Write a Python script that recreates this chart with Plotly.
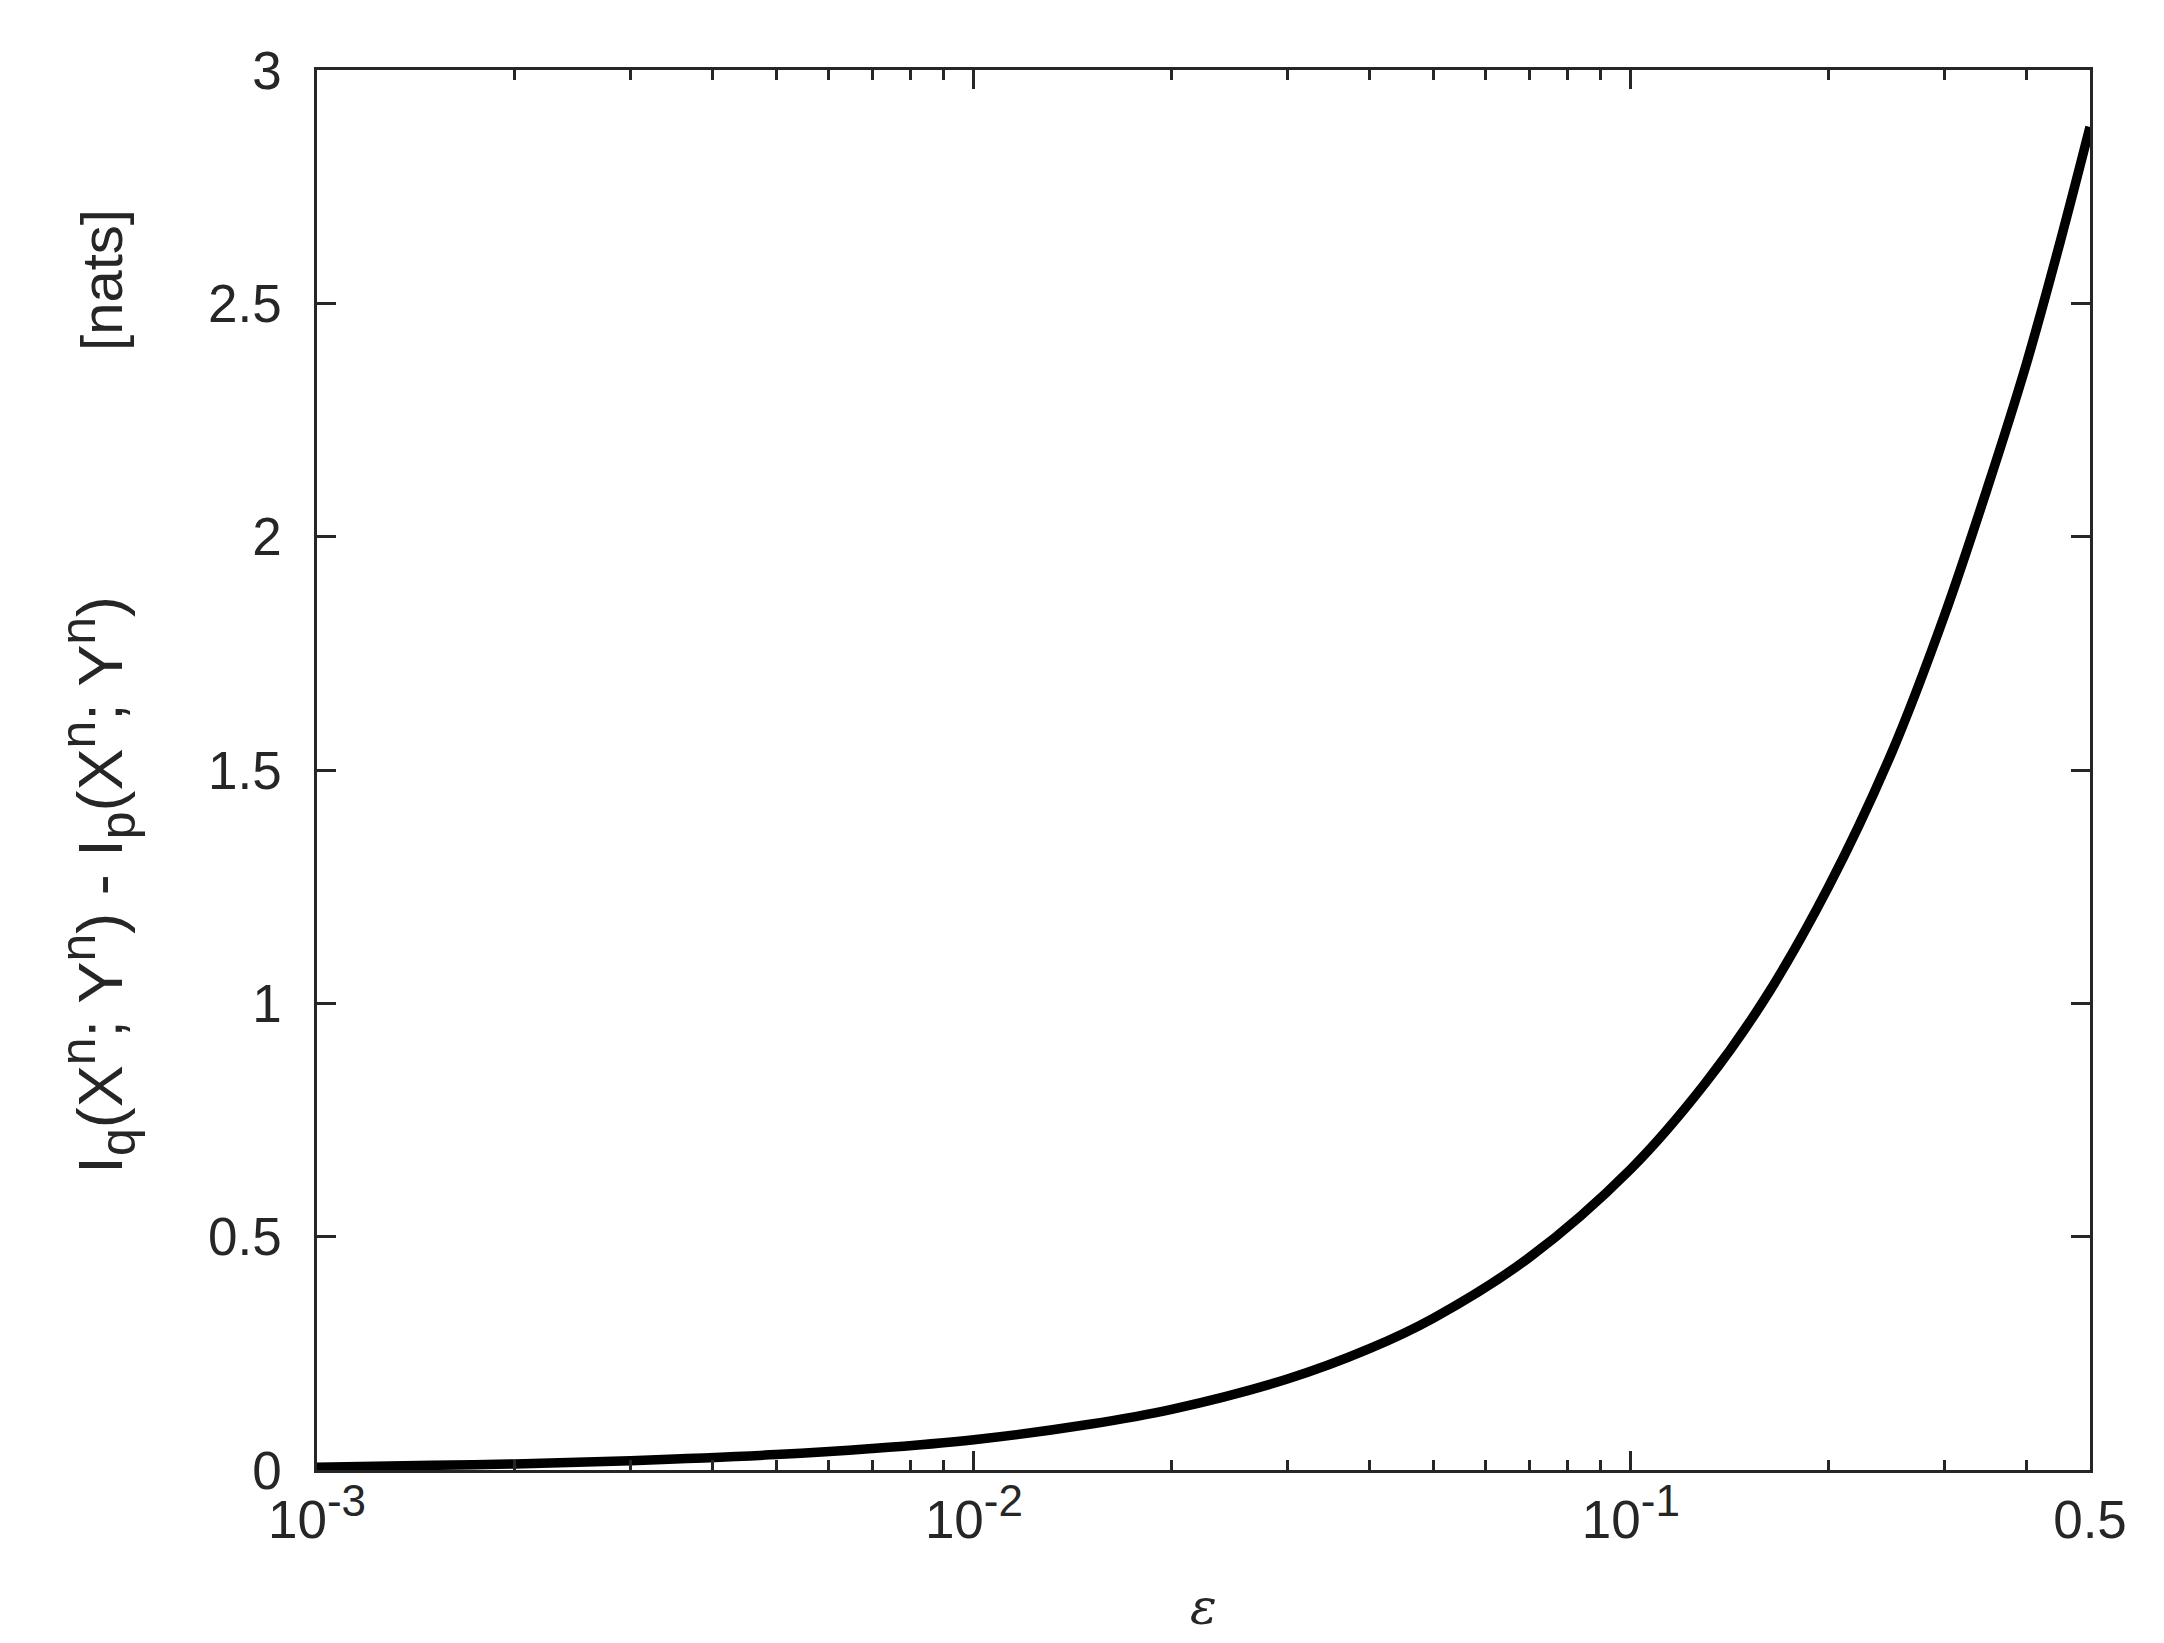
import plotly.graph_objs as go

# values
eps = [0.001, 0.0015, 0.002, 0.003, 0.005, 0.007, 0.01, 0.015, 0.02, 0.03, 0.04,
       0.05, 0.07, 0.1, 0.13, 0.16, 0.2, 0.25, 0.3, 0.35, 0.4, 0.45, 0.5]
gap = [0.006, 0.010, 0.013, 0.020, 0.033, 0.046, 0.065, 0.098, 0.13, 0.195, 0.26,
       0.325, 0.455, 0.645, 0.83, 1.01, 1.25, 1.54, 1.83, 2.11, 2.37, 2.63, 2.878]


def sup(s, size=44):
    return '<sup><span style="font-size:%dpx">%s</span></sup>' % (size, s)


def sub(s, size=50):
    return '<sub><span style="font-size:%dpx">%s</span></sub>' % (size, s)


x_tickvals = [0.001, 0.01, 0.1, 0.5]
x_ticktext = ['10' + sup('-3'), '10' + sup('-2'), '10' + sup('-1'), '0.5']
x_minor = [2e-3, 3e-3, 4e-3, 5e-3, 6e-3, 7e-3, 8e-3, 9e-3,
           2e-2, 3e-2, 4e-2, 5e-2, 6e-2, 7e-2, 8e-2, 9e-2,
           0.2, 0.3, 0.4]
y_tickvals = [0, 0.5, 1, 1.5, 2, 2.5, 3]
y_ticktext = ['0', '0.5', '1', '1.5', '2', '2.5', '3']

ylabel = ('I' + sub('q') + '(X' + sup('n', 50) + '; Y' + sup('n', 50) + ') - I' + sub('p') +
          '(X' + sup('n', 50) + '; Y' + sup('n', 50) + ')' + '\u00a0' * 14 +
          '<span style="font-size:58px">[nats]</span>')

axcol = '#262626'
font = 'Liberation Sans, Arial, sans-serif'

data = [
    go.Scatter(
        x=eps,
        y=gap,
        mode='lines',
        line={'color': 'black', 'width': 9.5, 'shape': 'spline', 'smoothing': 1.0},
        showlegend=False
    )
]

layout = go.Layout(
    width=2164, height=1643,
    plot_bgcolor='white', paper_bgcolor='white',
    margin={'l': 309, 'r': 82, 't': 62, 'b': 181, 'pad': 0},
    font={'family': font, 'size': 53, 'color': axcol},
    xaxis={'type': 'log', 'range': [-3, -0.30103], 'showgrid': False, 'zeroline': False,
           'showline': True, 'linecolor': axcol, 'linewidth': 2.5, 'mirror': 'allticks',
           'ticks': 'inside', 'ticklen': 19, 'tickwidth': 2.5, 'tickcolor': axcol,
           'tickmode': 'array', 'tickvals': x_tickvals, 'ticktext': x_ticktext,
           'ticklabelstandoff': 2,
           'minor': {'ticks': 'inside', 'ticklen': 10, 'tickwidth': 2.5, 'tickcolor': axcol,
                     'tickmode': 'array', 'tickvals': x_minor, 'showgrid': False}},
    yaxis={'range': [0, 3], 'showgrid': False, 'zeroline': False,
           'showline': True, 'linecolor': axcol, 'linewidth': 2.5, 'mirror': 'allticks',
           'ticks': 'inside', 'ticklen': 19, 'tickwidth': 2.5, 'tickcolor': axcol,
           'tickmode': 'array', 'tickvals': y_tickvals, 'ticktext': y_ticktext,
           'ticklabelstandoff': 22},
    annotations=[
        dict(text=ylabel, xref='paper', yref='paper', x=-0.1235, y=0.556,
             xanchor='center', yanchor='middle', textangle=-90, showarrow=False,
             font={'family': font, 'size': 63, 'color': axcol}),
        dict(text='<i>ε</i>', xref='paper', yref='paper', x=0.5, y=-0.098,
             xanchor='center', yanchor='middle', showarrow=False,
             font={'family': 'DejaVu Serif, serif', 'size': 50, 'color': axcol}),
    ]
)

fig = go.Figure(data=data, layout=layout)
fig.write_html("out.html")
